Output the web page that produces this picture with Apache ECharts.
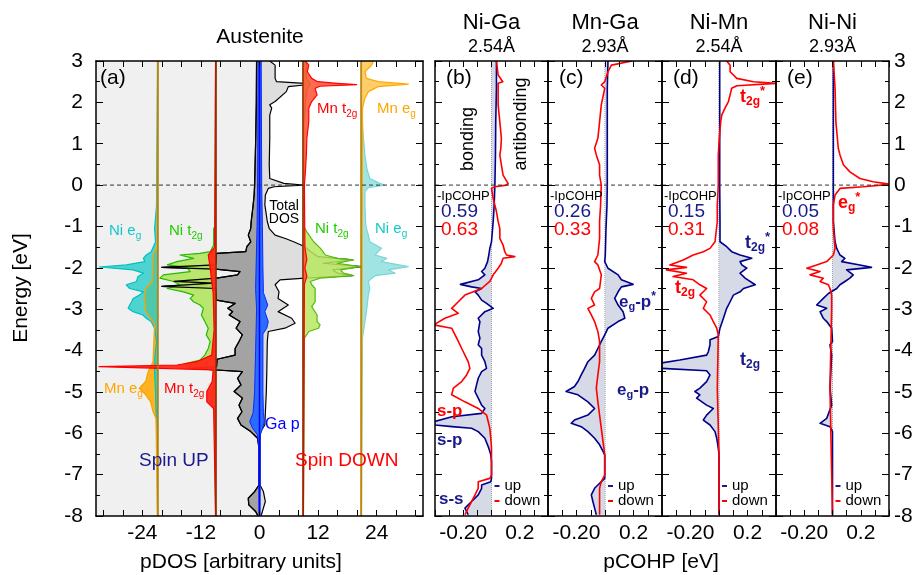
<!DOCTYPE html>
<html>
<head>
<meta charset="utf-8">
<script src="https://cdn.jsdelivr.net/npm/echarts@6/dist/echarts.min.js"></script>
<style>
html, body { margin: 0; background: #fff; }
#container { width: 920px; height: 575px; }
</style>
</head>
<body>
<div id="container"></div>
<script>
// ---- data: [energy (eV), value] ----
// panel (a), pDOS magnitudes (arbitrary units)
var totalUp = [[3,0.6],[2,0.65],[1,0.8],[0,1.0],[-0.24,1.1],[-0.48,1.3],[-0.88,1.7],[-1.05,1.8],[-1.21,2.3],[-1.37,1.8],[-1.49,2.6],[-1.61,2.8],[-1.65,8.8],[-1.93,9.0],[-1.99,20.0],[-2.03,9.0],[-2.09,4.0],[-2.17,4.5],[-2.25,8.8],[-2.33,17.5],[-2.37,9.5],[-2.45,20.0],[-2.5,9.0],[-2.78,8.8],[-2.86,5.0],[-2.98,6.5],[-3.06,5.5],[-3.14,6.2],[-3.3,4.0],[-3.46,4.8],[-3.62,3.5],[-3.78,4.2],[-3.95,5.0],[-4.11,5.0],[-4.21,8.7],[-4.39,8.8],[-4.43,14.0],[-4.47,8.8],[-4.51,3.5],[-4.67,4.5],[-4.83,3.8],[-4.99,5.2],[-5.15,3.5],[-5.32,4.2],[-5.48,3.6],[-5.64,4.5],[-5.8,3.8],[-5.96,1.8],[-6.12,0.4],[-6.36,0.1],[-7.25,0.1],[-7.41,1.0],[-7.57,2.3],[-7.73,2.2],[-7.89,0.8],[-8,0.3]];
var totalDown = [[3,2.1],[2.9,3.2],[2.58,3.2],[2.5,3.5],[2.46,9.2],[2.42,9.2],[2.38,5.9],[2.26,5.5],[2.02,3.2],[1.94,2.1],[1.86,2.5],[1.69,2.1],[1.13,2.1],[0.49,2.0],[0.16,2.1],[0.04,5.0],[0,9.0],[-0.04,3.0],[-0.08,1.8],[-0.24,1.2],[-0.48,1.1],[-0.88,1.6],[-1.05,2.0],[-1.21,3.2],[-1.29,5.3],[-1.37,7.0],[-1.49,9.3],[-1.61,10.5],[-1.73,12],[-1.81,19],[-1.89,13],[-1.97,21],[-2.05,15],[-2.13,16],[-2.19,19],[-2.25,9.3],[-2.29,4.2],[-2.41,3.2],[-2.58,4.0],[-2.74,3.8],[-2.9,5.9],[-3.06,3.8],[-3.22,6.6],[-3.34,7.3],[-3.46,5.2],[-3.54,1.8],[-3.78,1.6],[-4.5,1.5],[-5,1.4],[-5.5,1.2],[-5.8,1.1],[-5.96,0.2],[-6.2,0.1],[-7.25,0.1],[-7.41,0.8],[-7.65,1.2],[-7.89,0.6],[-8,0.3]];
var gaUp = [[3,0.3],[1,0.35],[0,0.4],[-1,0.5],[-2,0.7],[-2.5,0.8],[-3,0.6],[-3.5,0.7],[-4,0.8],[-4.5,0.9],[-5,1.0],[-5.5,1.3],[-5.72,2.0],[-5.88,1.4],[-6.04,0.4],[-6.3,0.15],[-8,0.1]];
var gaDown = [[3,0.35],[0,0.45],[-1,0.6],[-2,0.7],[-2.6,0.8],[-2.9,1.7],[-3.06,1.1],[-3.3,1.8],[-3.46,1.5],[-3.6,0.7],[-4.5,0.7],[-5,0.7],[-5.5,0.8],[-5.7,1.0],[-5.9,0.6],[-6.04,0.15],[-8,0.1]];
var niT2gUp = [[3,0.1],[-1,0.2],[-1.05,0.5],[-1.45,0.5],[-1.61,1.2],[-1.65,3.3],[-1.69,7.4],[-1.77,4.6],[-1.85,8.0],[-1.93,10.0],[-1.99,6.0],[-2.09,5.3],[-2.17,10.8],[-2.25,11.5],[-2.33,8.7],[-2.41,7.4],[-2.5,10.0],[-2.58,6.7],[-2.66,4.6],[-2.74,5.3],[-2.82,4.6],[-2.9,3.3],[-2.98,2.6],[-3.14,3.0],[-3.3,2.3],[-3.46,1.6],[-3.62,2.0],[-3.78,1.2],[-3.95,1.6],[-4.11,2.3],[-4.23,3.3],[-4.31,6.0],[-4.39,6.0],[-4.47,0.2],[-4.91,0.5],[-5.07,0.9],[-5.24,0.9],[-5.4,0.3],[-8,0.1]];
var mnT2gUp = [[3,0.1],[-1.5,0.3],[-1.69,1.6],[-2.01,1.2],[-2.33,0.9],[-2.6,0.6],[-3.5,0.4],[-4.11,0.9],[-4.27,4.0],[-4.35,8.0],[-4.39,24.0],[-4.43,11.5],[-4.47,0.6],[-4.75,0.8],[-4.99,1.9],[-5.24,1.9],[-5.4,0.5],[-8,0.1]];
var niEgUp = [[3,0.1],[-0.5,0.3],[-1.05,0.7],[-1.37,0.5],[-1.61,1.4],[-1.69,2.4],[-1.77,3.0],[-1.85,2.7],[-1.93,6.5],[-1.98,12.0],[-2.05,5.1],[-2.13,3.0],[-2.21,4.1],[-2.33,4.4],[-2.41,6.5],[-2.5,5.8],[-2.58,3.0],[-2.66,3.8],[-2.74,5.1],[-2.82,5.4],[-2.9,5.8],[-2.98,6.1],[-3.06,5.1],[-3.14,3.1],[-3.22,2.4],[-3.3,1.4],[-3.46,0.7],[-3.78,0.3],[-4.11,0.6],[-4.5,0.7],[-5,0.5],[-5.5,0.4],[-6,0.2],[-8,0.1]];
var mnEgUp = [[3,0.05],[-1.5,0.2],[-1.69,1.0],[-2.33,1.2],[-2.5,2.5],[-2.74,2.8],[-3.06,2.5],[-3.22,1.5],[-3.38,0.7],[-4.27,1.0],[-4.51,2.0],[-4.75,2.5],[-4.91,3.8],[-5.07,2.5],[-5.24,1.5],[-5.48,1.0],[-5.64,0.4],[-8,0.1]];
var mnT2gDown = [[3,0.5],[2.9,1.2],[2.74,0.9],[2.58,1.8],[2.5,3.0],[2.46,7.0],[2.43,11.0],[2.39,3.5],[2.34,2.5],[2.18,2.9],[2.02,1.8],[1.86,1.2],[1.53,1.2],[1.13,0.8],[0.73,0.7],[0.32,0.5],[0,0.3],[-1.5,0.4],[-1.8,0.8],[-2,0.4],[-2.2,0.8],[-2.4,0.3],[-8,0.1]];
var niT2gDown = [[3,0.7],[2.58,0.7],[2.46,1.5],[2.34,0.9],[2,0.5],[1.5,0.2],[-1,0.2],[-1.13,0.8],[-1.37,2.2],[-1.53,3.6],[-1.69,4.6],[-1.77,7.0],[-1.81,10.4],[-1.89,7.0],[-1.97,11.7],[-2.05,7.7],[-2.13,8.3],[-2.19,10.4],[-2.25,3.5],[-2.33,1.5],[-2.41,1.8],[-2.5,2.5],[-2.82,2.5],[-2.94,1.8],[-3.14,2.9],[-3.3,2.9],[-3.38,3.5],[-3.46,3.2],[-3.54,1.2],[-3.7,0.3],[-8,0.1]];
var mnEgDown = [[3,2.5],[2.9,2.2],[2.74,0.8],[2.58,1.1],[2.5,3.5],[2.44,9.7],[2.38,3.5],[2.26,1.5],[2.1,0.8],[1.86,0.3],[-8,0.1]];
var niEgDown = [[3,0.3],[2,0.3],[1.53,0.3],[1.13,0.5],[0.73,0.8],[0.4,1.2],[0.16,1.8],[0.06,3.5],[0,4.8],[-0.06,1.5],[-0.16,0.8],[-0.5,0.8],[-1,1.0],[-1.21,1.5],[-1.37,1.8],[-1.53,4.2],[-1.61,3.5],[-1.69,2.9],[-1.77,5.3],[-1.85,4.2],[-1.97,9.7],[-2.05,5.6],[-2.13,7.0],[-2.19,2.9],[-2.25,2.2],[-2.33,1.5],[-2.5,1.8],[-2.66,1.5],[-2.98,1.2],[-3.3,0.8],[-3.7,0.3],[-8,0.1]];

// panels (b)-(e), pCOHP (eV)
var nigaUp = [[3,0.035],[2.34,0.035],[1.53,0.03],[0.73,0.028],[0,0.024],[-0.48,0.019],[-0.88,0.012],[-1.37,0],[-1.53,-0.012],[-1.69,-0.019],[-1.85,-0.028],[-2.01,-0.047],[-2.09,-0.07],[-2.17,-0.047],[-2.29,-0.094],[-2.4,-0.22],[-2.46,-0.141],[-2.5,-0.07],[-2.58,-0.117],[-2.66,-0.094],[-2.78,-0.07],[-2.86,-0.035],[-2.98,0.012],[-3.06,-0.047],[-3.22,-0.094],[-3.3,-0.082],[-3.54,-0.094],[-3.7,-0.082],[-3.86,-0.094],[-3.95,-0.07],[-4.11,-0.07],[-4.27,-0.047],[-4.43,-0.035],[-4.51,-0.07],[-4.67,-0.094],[-4.83,-0.106],[-4.99,-0.117],[-5.15,-0.094],[-5.32,-0.07],[-5.4,-0.047],[-5.52,-0.07],[-5.6,-0.28],[-5.72,-0.41],[-5.8,-0.4],[-5.84,-0.28],[-5.88,-0.141],[-5.96,-0.094],[-6.12,-0.047],[-6.36,-0.019],[-6.52,-0.005],[-6.68,0],[-7.09,0],[-7.17,-0.005],[-7.25,-0.07],[-7.33,-0.07],[-7.49,-0.094],[-7.65,-0.141],[-7.81,-0.188],[-7.97,-0.165]];
var nigaDown = [[3,0.035],[2.66,0.047],[2.5,0.08],[2.46,0.047],[1.94,0.047],[1.53,0.059],[1.13,0.07],[0.89,0.066],[0.73,0.059],[0.49,0.07],[0.24,0.082],[0.04,0.117],[0,0.106],[-0.04,0.024],[-0.08,0],[-0.32,0.012],[-0.64,0.035],[-0.88,0.047],[-1.05,0.059],[-1.29,0.059],[-1.45,0.082],[-1.61,0.094],[-1.69,0.106],[-1.73,0.165],[-1.77,0.082],[-1.89,0.07],[-2.01,0.047],[-2.17,0.012],[-2.33,-0.012],[-2.5,-0.07],[-2.66,-0.188],[-2.82,-0.235],[-2.98,-0.282],[-3.1,-0.235],[-3.22,-0.33],[-3.38,-0.41],[-3.46,-0.282],[-3.62,-0.258],[-3.78,-0.235],[-3.95,-0.211],[-4.11,-0.188],[-4.27,-0.165],[-4.43,-0.153],[-4.59,-0.176],[-4.75,-0.211],[-4.91,-0.27],[-5.07,-0.282],[-5.24,-0.188],[-5.4,-0.094],[-5.56,-0.035],[-5.72,-0.023],[-5.88,-0.012],[-6.12,-0.005],[-6.36,0],[-7.01,0],[-7.09,-0.012],[-7.17,-0.094],[-7.33,-0.094],[-7.49,-0.117],[-7.65,-0.141],[-7.81,-0.165],[-7.97,-0.188]];
var mngaUp = [[3,0.021],[2.34,0.016],[1.53,0.016],[0.73,0.016],[0,0.016],[-0.48,0.014],[-1.05,0.007],[-1.69,0.002],[-1.85,-0.002],[-2.01,0.021],[-2.17,0.092],[-2.29,0.115],[-2.4,0.197],[-2.46,0.115],[-2.58,0.092],[-2.74,0.068],[-2.9,0.092],[-3.06,0.127],[-3.22,0.139],[-3.3,0.092],[-3.46,0.021],[-3.62,-0.002],[-3.78,-0.026],[-3.95,-0.05],[-4.11,-0.073],[-4.27,-0.12],[-4.43,-0.143],[-4.59,-0.167],[-4.75,-0.19],[-4.87,-0.214],[-4.99,-0.273],[-5.07,-0.19],[-5.24,-0.12],[-5.4,-0.073],[-5.56,-0.12],[-5.68,-0.214],[-5.76,-0.237],[-5.84,-0.167],[-5.96,-0.12],[-6.12,-0.073],[-6.28,-0.038],[-6.44,-0.014],[-6.52,-0.002],[-7.09,-0.002],[-7.25,-0.05],[-7.33,-0.073],[-7.49,-0.096],[-7.65,-0.085],[-7.81,-0.073],[-7.97,-0.061]];
var mngaDown = [[3,0.19],[2.9,0.045],[2.74,0.021],[2.5,-0.002],[2.42,-0.026],[2.34,-0.002],[1.94,-0.026],[1.53,-0.038],[1.13,-0.05],[0.89,-0.073],[0.73,-0.061],[0.49,-0.038],[0.24,-0.038],[0,-0.026],[-0.48,-0.031],[-0.88,-0.038],[-1.29,-0.038],[-1.69,-0.05],[-1.85,-0.073],[-1.93,-0.05],[-2.17,-0.026],[-2.5,-0.038],[-2.58,-0.073],[-2.74,-0.096],[-2.9,-0.073],[-2.98,-0.12],[-3.14,-0.096],[-3.3,-0.073],[-3.54,-0.05],[-3.78,-0.038],[-4.27,-0.038],[-4.59,-0.05],[-4.91,-0.061],[-5.24,-0.05],[-5.56,-0.038],[-5.88,-0.026],[-6.2,-0.014],[-6.52,-0.002],[-7.01,-0.002],[-7.17,-0.026],[-7.33,-0.038],[-7.97,-0.038]];
var nimnUp = [[3,0.005],[0,0.005],[-0.88,0.007],[-1.37,0.007],[-1.49,0.054],[-1.61,0.089],[-1.69,0.148],[-1.77,0.23],[-1.85,0.148],[-1.93,0.16],[-2.01,0.195],[-2.13,0.148],[-2.25,0.183],[-2.41,0.254],[-2.5,0.172],[-2.58,0.148],[-2.66,0.101],[-2.82,0.078],[-2.98,0.054],[-3.22,0.031],[-3.46,0.007],[-3.66,-0.005],[-3.74,-0.063],[-3.86,-0.063],[-4.03,-0.075],[-4.11,-0.087],[-4.23,-0.275],[-4.31,-0.42],[-4.43,-0.41],[-4.49,-0.087],[-4.59,-0.063],[-4.75,-0.087],[-4.91,-0.134],[-4.99,-0.169],[-5.07,-0.134],[-5.15,-0.157],[-5.32,-0.087],[-5.4,-0.04],[-5.56,-0.087],[-5.68,-0.11],[-5.8,-0.063],[-5.96,-0.028],[-6.12,-0.016],[-6.36,-0.005],[-6.52,0],[-7.97,0]];
var nimnDown = [[3,0.054],[2.9,0.078],[2.74,0.078],[2.58,0.125],[2.5,0.242],[2.46,0.4],[2.4,0.125],[2.34,0.089],[2.18,0.078],[2.02,0.066],[1.86,0.042],[1.69,0.019],[1.53,0.012],[1.13,0.002],[0.73,-0.005],[0,-0.005],[-0.48,-0.012],[-0.88,-0.012],[-1.37,-0.028],[-1.53,-0.063],[-1.61,-0.11],[-1.69,-0.181],[-1.81,-0.251],[-1.93,-0.345],[-1.99,-0.228],[-2.05,-0.369],[-2.13,-0.228],[-2.21,-0.322],[-2.29,-0.181],[-2.41,-0.134],[-2.5,-0.087],[-2.58,-0.11],[-2.66,-0.134],[-2.82,-0.087],[-2.98,-0.11],[-3.14,-0.063],[-3.3,-0.04],[-3.46,-0.016],[-3.62,-0.005],[-4.91,-0.012],[-6.52,0],[-7.97,0]];
var niniUp = [[3,0.006],[0,0.006],[-0.88,0.006],[-1.37,0.018],[-1.53,0.03],[-1.69,0.053],[-1.77,0.088],[-1.85,0.065],[-1.93,0.194],[-1.99,0.276],[-2.05,0.1],[-2.17,0.147],[-2.25,0.123],[-2.33,0.088],[-2.41,0.053],[-2.5,0.03],[-2.62,-0.029],[-2.74,-0.065],[-2.9,-0.112],[-2.98,-0.041],[-3.06,-0.088],[-3.22,-0.065],[-3.3,-0.041],[-3.46,-0.006],[-3.78,0],[-3.86,-0.018],[-4.11,-0.006],[-4.91,-0.018],[-5.32,-0.006],[-5.64,-0.041],[-5.76,-0.088],[-5.84,-0.018],[-5.96,0],[-7.97,0]];
var niniDown = [[3,0.006],[2.34,0.018],[1.53,0.024],[0.89,0.041],[0.73,0.053],[0.49,0.077],[0.32,0.123],[0.16,0.194],[0.08,0.288],[0.02,0.405],[-0.04,0.218],[-0.08,0.053],[-0.24,0.018],[-0.48,0.006],[-1.05,0.006],[-1.53,0.018],[-1.69,0.006],[-1.85,-0.041],[-1.93,-0.112],[-2.01,-0.182],[-2.09,-0.088],[-2.17,-0.159],[-2.25,-0.065],[-2.33,-0.088],[-2.41,-0.029],[-2.5,-0.018],[-2.66,-0.006],[-3,-0.006],[-4.91,-0.018],[-7.97,0]];

var pairs = ['Ni-Ga', 'Mn-Ga', 'Ni-Mn', 'Ni-Ni'];
var dists = ['2.54Å', '2.93Å', '2.54Å', '2.93Å'];
var ipcohpUp = ['0.59', '0.26', '0.15', '0.05'];
var ipcohpDown = ['0.63', '0.33', '0.31', '0.08'];
var dosTicks = [-32, -28, -24, -20, -16, -12, -8, -4, 0, 4, 8, 12, 16, 20, 24, 28, 32];
var dosLabels = [-24, -12, 0, 12, 24];

// ---- layout ----
var FONT = '"Liberation Sans", Arial, sans-serif';
var NAVY = '#1a1a8c';
var T2G = 8.9, EG = 20.8;   // offsets of the stacked pDOS curves
var DOSMAX = 33.5, COHPMAX = 0.4;
var grids = [
    {left: 96, top: 61, width: 327, height: 455},
    {left: 435, top: 61, width: 113, height: 455},
    {left: 548, top: 61, width: 114, height: 455},
    {left: 662, top: 61, width: 114, height: 455},
    {left: 776, top: 61, width: 113, height: 455}
];

var dom = document.getElementById('container');
var myChart = echarts.init(dom, null, {renderer: 'canvas'});

var xAxes = [], yAxes = [];
grids.forEach(function (g, i) {
    var isDos = i === 0;
    var frame = {show: true, onZero: false, lineStyle: {color: '#000', width: 1.5}};
    var tick = {inside: true, length: 6, lineStyle: {color: '#000'}};
    if (isDos) tick.customValues = dosTicks;
    var bottomLabel = isDos ? {
        customValues: dosLabels, fontSize: 21, color: '#000', margin: 7, fontFamily: FONT
    } : {
        fontSize: 21, color: '#000', margin: 7, fontFamily: FONT,
        formatter: function (v) {
            if (Math.abs(v + 0.2) < 1e-6) return '-0.20';
            if (Math.abs(v - 0.2) < 1e-6) return '0.2';
            return '';
        }
    };
    [['bottom', bottomLabel], ['top', {show: false}]].forEach(function (p) {
        var ax = {
            gridIndex: i, type: 'value', position: p[0], z: 10,
            min: isDos ? -DOSMAX : -COHPMAX, max: isDos ? DOSMAX : COHPMAX,
            axisLine: frame, axisTick: tick, splitLine: {show: false}, axisLabel: p[1]
        };
        if (!isDos) ax.interval = 0.1;
        xAxes.push(ax);
    });
    ['left', 'right'].forEach(function (pos) {
        var showLabel = (pos === 'left' && i === 0) || (pos === 'right' && i === 4);
        yAxes.push({
            gridIndex: i, type: 'value', position: pos, z: 10,
            min: -8, max: 3, interval: 1,
            axisLine: frame,
            axisTick: {inside: true, length: 7, lineStyle: {color: '#000'}},
            minorTick: {show: true, splitNumber: 2, length: 4, lineStyle: {color: '#000'}},
            splitLine: {show: false},
            axisLabel: {show: showLabel, fontSize: 21, color: '#000', margin: pos === 'left' ? 13 : 5, fontFamily: FONT}
        });
    });
});

// filled polygon + outline, drawn through the axes with api.coord
function shapeSeries(gi, poly, line, fill, stroke, lw, z) {
    var data = line || poly;
    return {
        type: 'custom', xAxisIndex: 2 * gi, yAxisIndex: 2 * gi, z: z, silent: true,
        data: data,
        renderItem: function (params, api) {
            if (params.dataIndex !== 0) return null;
            var cs = params.coordSys;
            var kids = [];
            if (fill) kids.push({type: 'polygon', shape: {points: poly.map(function (d) { return api.coord(d); })}, style: {fill: fill}});
            if (stroke && line) kids.push({type: 'polyline', shape: {points: line.map(function (d) { return api.coord(d); })},
                style: {stroke: stroke, lineWidth: lw, fill: null, lineJoin: 'round'}});
            return {type: 'group', children: kids,
                clipPath: {type: 'rect', shape: {x: cs.x, y: cs.y, width: cs.width, height: cs.height}}};
        }
    };
}

function curve(gi, pts, base, sign, fill, stroke, lw, z) {
    var line = pts.map(function (p) { return [base + sign * p[1], p[0]]; });
    var poly = [[base, line[0][1]]].concat(line, [[base, line[line.length - 1][1]]]);
    return shapeSeries(gi, poly, line, fill, stroke, lw, z);
}

function vline(gi, x, color, type, w, z) {
    return {type: 'line', xAxisIndex: 2 * gi, yAxisIndex: 2 * gi, symbol: 'none', silent: true, z: z,
        data: [[x, -8], [x, 3]], lineStyle: {color: color, type: type, width: w}};
}
function zeroLine(gi, xmax) {
    return {type: 'line', xAxisIndex: 2 * gi, yAxisIndex: 2 * gi, symbol: 'none', silent: true, z: 9,
        data: [[-xmax, 0], [xmax, 0]], lineStyle: {color: '#333', type: [4, 3], width: 1}};
}

var series = [];
// panel (a)
series.push(shapeSeries(0, [[-DOSMAX, -8], [0, -8], [0, 3], [-DOSMAX, 3]], null, '#f0f0f0', null, 0, 1));
series.push(curve(0, totalUp, 0, -1, '#a3a3a3', '#000', 1.2, 2));
series.push(curve(0, totalDown, 0, 1, '#dedede', '#000', 1.2, 2));
series.push(curve(0, mnEgUp, -EG, -1, 'rgba(255,175,20,0.95)', null, 1.2, 3));
series.push(curve(0, niEgUp, -EG, -1, 'rgba(40,205,200,0.82)', '#00c0c0', 1.2, 4));
series.push(curve(0, mnEgUp, -EG, -1, null, '#ffa000', 1.3, 5));
series.push(curve(0, niT2gUp, -T2G, -1, 'rgba(175,228,85,0.85)', '#22bb00', 1.2, 3));
series.push(curve(0, totalUp, 0, -1, null, '#000', 1.2, 5));
series.push(curve(0, mnT2gUp, -T2G, -1, 'rgba(255,40,25,0.95)', '#ff0000', 1.2, 6));
series.push(curve(0, niEgDown, EG, 1, 'rgba(150,225,225,0.9)', '#80d4d4', 1.2, 3));
series.push(curve(0, mnEgDown, EG, 1, 'rgba(255,200,90,0.9)', '#ffaa00', 1.2, 4));
series.push(curve(0, niT2gDown, T2G, 1, 'rgba(185,232,95,0.85)', '#55bb11', 1.2, 3));
series.push(curve(0, mnT2gDown, T2G, 1, 'rgba(255,80,50,0.85)', '#ff0000', 1.2, 4));
(function () {
    var loop = gaDown.map(function (p) { return [p[1], p[0]]; })
        .concat(gaUp.slice().reverse().map(function (p) { return [-p[1], p[0]]; }));
    series.push(shapeSeries(0, loop, loop, '#2a6cff', '#0a2aff', 1, 7));
})();
series.push(vline(0, 0, '#0000ff', 'solid', 1.5, 8));
series.push(vline(0, -T2G, '#8b2a00', 'solid', 1.5, 8));
series.push(vline(0, T2G, '#8b2a00', 'solid', 1.5, 8));
series.push(vline(0, -EG, '#b07a00', 'solid', 1.5, 8));
series.push(vline(0, EG, '#b07a00', 'solid', 1.5, 8));
series.push(zeroLine(0, DOSMAX));

// panels (b)-(e)
var cohp = [[nigaUp, nigaDown], [mngaUp, mngaDown], [nimnUp, nimnDown], [niniUp, niniDown]];
cohp.forEach(function (c, k) {
    var gi = k + 1;
    series.push(vline(gi, 0, '#888', 'dotted', 1, 2));
    series.push(curve(gi, c[0], 0, 1, 'rgba(200,204,222,0.75)', '#00008b', 1.6, 3));
    series.push(curve(gi, c[1], 0, 1, null, '#ff0000', 1.6, 4));
    series.push(zeroLine(gi, COHPMAX));
});

// ---- texts ----
var mctx = document.createElement('canvas').getContext('2d');
function textW(t, size, weight) {
    mctx.font = (weight || 'normal') + ' ' + size + 'px ' + FONT;
    return mctx.measureText(t).width;
}
function txt(x, y, t, size, color, align, extra) {
    var el = {type: 'text', x: x, y: y, z: 100, silent: true,
        style: {text: t, fill: color || '#000', font: 'normal ' + size + 'px ' + FONT,
            align: align || 'left', verticalAlign: 'middle'}};
    if (extra) Object.assign(el, extra);
    return el;
}
// segments: [text, size, dy, weight]
function seq(x, y, segs, color) {
    var cx = x;
    return segs.map(function (s) {
        var el = {type: 'text', x: cx, y: y + (s[2] || 0), z: 100, silent: true,
            style: {text: s[0], fill: color, font: (s[3] || 'normal') + ' ' + s[1] + 'px ' + FONT,
                align: 'left', verticalAlign: 'middle'}};
        cx += textW(s[0], s[1], s[3]);
        return el;
    });
}
function subLab(main, sub, size, weight) {
    return [[main, size, 0, weight], [sub, Math.round(size * 0.68), Math.round(size * 0.33), weight]];
}
function t2gStar(size) { return [['t', size, 0, 'bold'], ['2g', 12, 5, 'bold'], ['*', 13, -6, 'bold']]; }

var graphic = [];
function add(a) { graphic = graphic.concat(a); }

add(txt(260, 37, 'Austenite', 21, '#000', 'center'));
grids.slice(1).forEach(function (g, k) {
    var c = g.left + g.width / 2;
    add(txt(c, 23, pairs[k], 22, '#000', 'center'));
    add(txt(c, 47, dists[k], 18, '#000', 'center'));
    add(txt(g.left + 11, 78, '(' + 'bcde'[k] + ')', 21, '#000'));
    add(txt(g.left + 2, 196, '-IpCOHP', 13, '#000'));
    add(txt(g.left + 6, 212, ipcohpUp[k], 19, NAVY));
    add(txt(g.left + 6, 230, ipcohpDown[k], 19, '#ff0000'));
    // legend
    add({type: 'line', z: 100, silent: true, shape: {x1: c + 3, y1: 486, x2: c + 8, y2: 486}, style: {stroke: NAVY, lineWidth: 2}});
    add({type: 'line', z: 100, silent: true, shape: {x1: c + 3, y1: 501, x2: c + 8, y2: 501}, style: {stroke: '#ff0000', lineWidth: 2}});
    add(txt(c + 13, 486, 'up', 15, '#000'));
    add(txt(c + 13, 501, 'down', 15, '#000'));
});
add(txt(100, 78, '(a)', 21, '#000'));

add(seq(109, 231, subLab('Ni e', 'g', 15), '#14c8c8'));
add(seq(169, 231, subLab('Ni t', '2g', 15), '#22cc00'));
add(seq(104, 389, subLab('Mn e', 'g', 15), '#ffa500'));
add(seq(164, 389, subLab('Mn t', '2g', 15), '#ff0000'));
add(seq(317, 109, subLab('Mn t', '2g', 15), '#ff0000'));
add(seq(377, 109, subLab('Mn e', 'g', 15), '#ffa500'));
add(seq(315, 229, subLab('Ni t', '2g', 15), '#22cc00'));
add(seq(375, 229, subLab('Ni e', 'g', 15), '#14c8c8'));
add(txt(284, 206, 'Total', 14, '#000', 'center'));
add(txt(284, 219, 'DOS', 14, '#000', 'center'));
add(txt(265, 425, 'Ga p', 16, '#0000ff'));
add(txt(139, 461, 'Spin UP', 19, NAVY));
add(txt(295, 461, 'Spin DOWN', 19, '#ff0000'));

add(txt(468, 139, 'bonding', 18, '#000', 'center', {rotation: Math.PI / 2}));
add(txt(521.5, 124, 'antibonding', 18, '#000', 'center', {rotation: Math.PI / 2}));
add(seq(437, 411, [['s-p', 17, 0, 'bold']], '#ff0000'));
add(seq(437, 440, [['s-p', 17, 0, 'bold']], NAVY));
add(seq(439, 499, [['s-s', 17, 0, 'bold']], NAVY));
add(seq(619, 302, [['e', 17, 0, 'bold'], ['g', 11, 5, 'bold'], ['-p', 17, 0, 'bold'], ['*', 12, -5, 'bold']], NAVY));
add(seq(617, 390, [['e', 17, 0, 'bold'], ['g', 11, 5, 'bold'], ['-p', 17, 0, 'bold']], NAVY));
add(seq(740, 97, t2gStar(18), '#ff0000'));
add(seq(745, 243, t2gStar(18), NAVY));
add(seq(675, 288, [['t', 18, 0, 'bold'], ['2g', 12, 5, 'bold']], '#ff0000'));
add(seq(740, 360, [['t', 18, 0, 'bold'], ['2g', 12, 5, 'bold']], NAVY));
add(seq(838, 203, [['e', 18, 0, 'bold'], ['g', 12, 5, 'bold'], ['*', 13, -6, 'bold']], '#ff0000'));

add(txt(21, 288, 'Energy [eV]', 21, '#000', 'center', {rotation: Math.PI / 2}));
add(txt(241, 562, 'pDOS [arbitrary units]', 21, '#000', 'center'));
add(txt(661, 562, 'pCOHP [eV]', 21, '#000', 'center'));

var option = {
    animation: false,
    backgroundColor: '#fff',
    textStyle: {fontFamily: FONT},
    grid: grids.map(function (g) { return Object.assign({containLabel: false}, g); }),
    xAxis: xAxes,
    yAxis: yAxes,
    series: series,
    graphic: graphic
};
myChart.setOption(option, true);

window.onresize = function () {
    myChart.resize();
};
</script>
</body>
</html>
